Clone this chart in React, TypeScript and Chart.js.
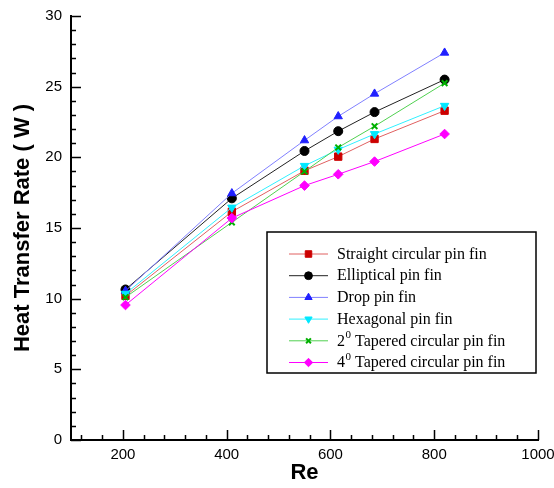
import React, { useEffect, useRef } from 'react';
import { Chart, registerables } from 'chart.js';
import { drawPoint } from 'chart.js/helpers';

Chart.register(...registerables);

// ---- data ----
const reValues = [205, 410, 550, 615, 685, 820];
const straightCircular = [10.2, 16.15, 19.05, 20.05, 21.3, 23.3];
const elliptical = [10.65, 17.1, 20.45, 21.85, 23.2, 25.5];
const dropFin = [10.55, 17.45, 21.2, 22.9, 24.5, 27.4];
const hexagonal = [10.35, 16.45, 19.4, 20.55, 21.65, 23.65];
const tapered2 = [10.1, 15.4, 19.0, 20.7, 22.2, 25.25];
const tapered4 = [9.55, 15.7, 18.0, 18.8, 19.7, 21.65];

const seriesLabels = [
  'Straight circular pin fin',
  'Elliptical pin fin',
  'Drop pin fin',
  'Hexagonal pin fin',
  '2\u2070 Tapered circular pin fin',
  '4\u2070 Tapered circular pin fin',
];

const xTickValues = [200, 400, 600, 800, 1000];
const yTickValues = [0, 5, 10, 15, 20, 25, 30];
const xMinorStep = 40;
const yMinorStep = 1;

const xTitle = 'Re';
const yTitle = 'Heat Transfer Rate ( W )';

// ---- styles ----
const seriesStyles = [
  { line: '#e06060', marker: '#cc0000', pointStyle: 'rect', radius: 5.2, rotation: 0 },
  { line: '#222222', marker: '#000000', pointStyle: 'circle', radius: 4.5, rotation: 0 },
  { line: '#8080ff', marker: '#2020ff', pointStyle: 'triangle', radius: 4.8, rotation: 0 },
  { line: '#30f0ff', marker: '#00e8ff', pointStyle: 'triangle', radius: 4.8, rotation: 180 },
  { line: '#50d050', marker: '#00b000', pointStyle: 'crossRot', radius: 4, rotation: 0 },
  { line: '#ff00ff', marker: '#ff00ff', pointStyle: 'rectRot', radius: 4.8, rotation: 0 },
];

const SANS = 'Arial, "Liberation Sans", sans-serif';
const SERIF = '"Times New Roman", "Liberation Serif", serif';

const axisTicksPlugin = {
  id: 'axisTicks',
  beforeDatasetsDraw(chart: any) {
    const ctx = chart.ctx;
    const xs = chart.scales.x;
    const ys = chart.scales.y;
    const area = chart.chartArea;
    ctx.save();
    ctx.strokeStyle = '#000';
    ctx.lineWidth = 1.5;
    ctx.beginPath();
    for (let v = xs.min + xMinorStep / 2; v < xs.max; v += xMinorStep) {
      if (xTickValues.includes(Math.round(v))) continue;
      const px = Math.round(xs.getPixelForValue(v)) + 0.5;
      ctx.moveTo(px, area.bottom);
      ctx.lineTo(px, area.bottom - 5);
    }
    for (const v of xTickValues) {
      const px = Math.round(xs.getPixelForValue(v)) + 0.5;
      ctx.moveTo(px, area.bottom);
      ctx.lineTo(px, area.bottom - 10);
    }
    for (let v = ys.min + yMinorStep; v < ys.max; v += yMinorStep) {
      if (yTickValues.includes(Math.round(v))) continue;
      const py = Math.round(ys.getPixelForValue(v)) + 0.5;
      ctx.moveTo(area.left, py);
      ctx.lineTo(area.left + 5, py);
    }
    for (const v of yTickValues) {
      const py = Math.round(ys.getPixelForValue(v)) + 0.5;
      ctx.moveTo(area.left, py);
      ctx.lineTo(area.left + 10, py);
    }
    ctx.stroke();
    ctx.restore();
  },
};

const boxLegendPlugin = {
  id: 'boxLegend',
  afterDraw(chart: any) {
    const ctx = chart.ctx;
    const bx = 267, by = 232, bw = 269, bh = 141;
    ctx.save();
    ctx.fillStyle = '#fff';
    ctx.fillRect(bx, by, bw, bh);
    ctx.strokeStyle = '#000';
    ctx.lineWidth = 1.5;
    ctx.strokeRect(bx, by, bw, bh);
    const rowTop = by + 21.5;
    const rowGap = 21.7;
    chart.data.datasets.forEach((ds: any, i: number) => {
      const y = rowTop + i * rowGap;
      const st = seriesStyles[i];
      ctx.strokeStyle = st.line;
      ctx.lineWidth = 1;
      ctx.beginPath();
      ctx.moveTo(bx + 22, y + 0.5);
      ctx.lineTo(bx + 61, y + 0.5);
      ctx.stroke();
      ctx.fillStyle = st.marker;
      ctx.strokeStyle = st.marker;
      ctx.lineWidth = st.pointStyle === 'crossRot' ? 2 : 1;
      drawPoint(ctx, { pointStyle: st.pointStyle as any, rotation: st.rotation, radius: st.radius - 0.6, borderWidth: ctx.lineWidth }, bx + 41.5, y + 0.5);
      ctx.fillStyle = '#000';
      ctx.textBaseline = 'middle';
      ctx.textAlign = 'left';
      const label: string = ds.label;
      let tx = bx + 70;
      const parts = label.split('\u2070');
      ctx.font = `16px ${SERIF}`;
      if (parts.length > 1) {
        ctx.fillText(parts[0], tx, y + 1);
        tx += ctx.measureText(parts[0]).width;
        ctx.font = `11px ${SERIF}`;
        ctx.fillText('0', tx + 0.5, y - 5);
        tx += ctx.measureText('0').width + 0.5;
        ctx.font = `16px ${SERIF}`;
        ctx.fillText(parts[1], tx, y + 1);
      } else {
        ctx.fillText(label, tx, y + 1);
      }
    });
    ctx.restore();
  },
};

export default function App() {
  const canvasRef = useRef<HTMLCanvasElement | null>(null);

  useEffect(() => {
    document.body.style.margin = '0';
    const canvas = canvasRef.current;
    if (!canvas) return;
    const allSeries = [straightCircular, elliptical, dropFin, hexagonal, tapered2, tapered4];
    const datasets = allSeries.map((vals, i) => {
      const st = seriesStyles[i];
      return {
        label: seriesLabels[i],
        data: reValues.map((x, j) => ({ x, y: vals[j] })),
        borderColor: st.line,
        backgroundColor: st.marker,
        borderWidth: 1,
        pointStyle: st.pointStyle,
        pointRotation: st.rotation,
        pointRadius: st.radius,
        pointBackgroundColor: st.marker,
        pointBorderColor: st.marker,
        pointBorderWidth: st.pointStyle === 'crossRot' ? 2 : 1,
        tension: 0,
        fill: false,
        order: allSeries.length - i,
      };
    });
    const chart = new Chart(canvas, {
      type: 'line',
      data: { datasets } as any,
      options: {
        responsive: false,
        animation: false,
        devicePixelRatio: 1,
        layout: { padding: { top: 16, right: 16, left: 0, bottom: 0 } },
        plugins: {
          legend: { display: false },
          tooltip: { enabled: false },
        },
        scales: {
          x: {
            type: 'linear',
            min: 100,
            max: 1000,
            afterBuildTicks: (s: any) => {
              s.ticks = xTickValues.map((v) => ({ value: v }));
            },
            afterFit: (s: any) => {
              s.height = 48;
              s.paddingLeft = 0;
              s.paddingRight = 0;
            },
            grid: { display: false, drawTicks: false },
            border: { display: true, color: '#000', width: 2 },
            ticks: {
              padding: 6,
              color: '#000',
              autoSkip: false,
              maxRotation: 0,
              font: { family: SANS, size: 15 },
              callback: (v: any) => String(v),
            },
            title: {
              display: true,
              text: xTitle,
              color: '#000',
              font: { family: SANS, size: 22, weight: 'bold' },
              padding: { top: 0, bottom: 2 },
            },
          },
          y: {
            type: 'linear',
            min: 0,
            max: 30,
            afterBuildTicks: (s: any) => {
              s.ticks = yTickValues.map((v) => ({ value: v }));
            },
            afterFit: (s: any) => {
              s.width = 71;
              s.paddingTop = 0;
              s.paddingBottom = 0;
            },
            grid: { display: false, drawTicks: false },
            border: { display: true, color: '#000', width: 2 },
            ticks: {
              padding: 9,
              color: '#000',
              autoSkip: false,
              font: { family: SANS, size: 15 },
              callback: (v: any) => String(v),
            },
            title: {
              display: true,
              text: yTitle,
              color: '#000',
              font: { family: SANS, size: 22, weight: 'bold' },
              padding: { top: 10, bottom: 0 },
            },
          },
        },
      } as any,
      plugins: [axisTicksPlugin, boxLegendPlugin],
    });
    return () => chart.destroy();
  }, []);

  return (
    <div style={{ width: 554, height: 488, background: '#fff' }}>
      <canvas ref={canvasRef} width={554} height={488} style={{ display: 'block' }} />
    </div>
  );
}
